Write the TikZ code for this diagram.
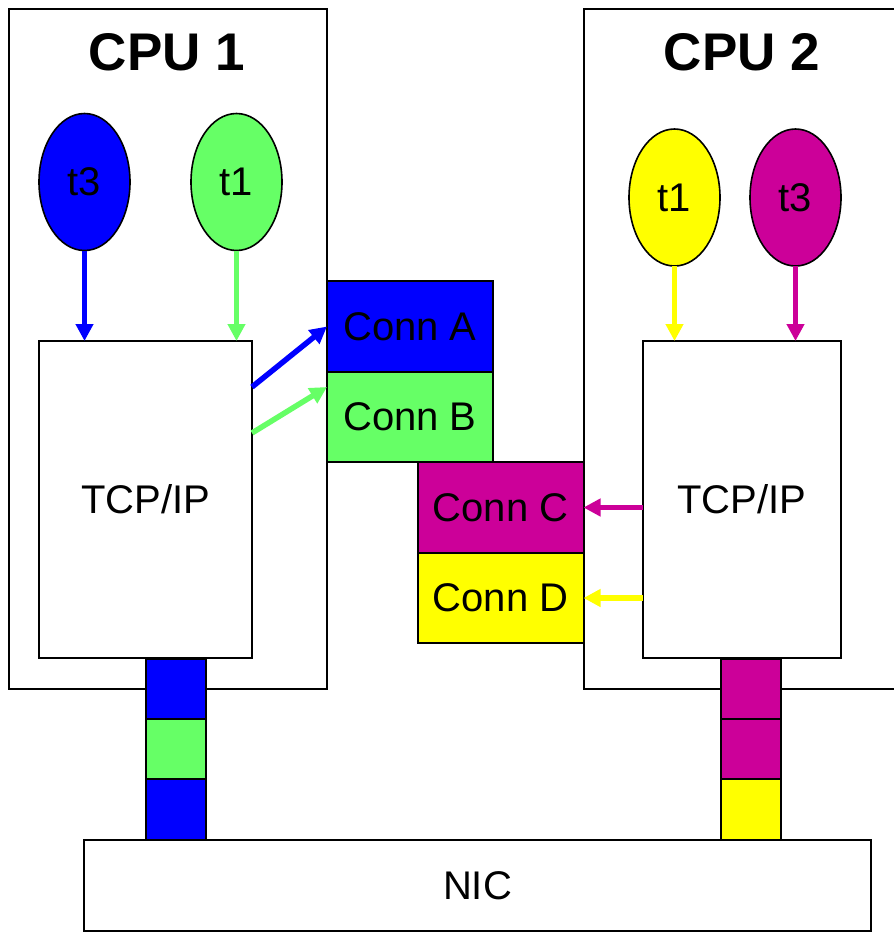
\documentclass[tikz,border=0pt]{standalone}
\usepackage{fontspec}
\setmainfont{Liberation Sans}
\usepackage{tikz}
\usetikzlibrary{arrows.meta, shapes.geometric, positioning, calc}
\definecolor{tblue}{HTML}{0000FF}
\definecolor{tgreen}{HTML}{66FF66}
\definecolor{tyellow}{HTML}{FFFF00}
\definecolor{tmagenta}{HTML}{CC0099}
\tikzset{
	box/.style={draw, line width=2pt, inner sep=0pt, outer sep=0pt, font=\fontsize{40}{48}\selectfont},
	thread/.style={draw, ellipse, line width=1.6pt, fill=#1, inner sep=0pt, outer sep=0pt, minimum width=91pt, minimum height=137pt, font=\fontsize{40}{48}\selectfont},
	conn/.style={box, fill=#1, minimum width=166pt, minimum height=90.5pt},
	cell/.style={box, fill=#1, minimum width=60pt, minimum height=60.3pt},
	flow/.style={draw=#1, line width=5.5pt, -{Triangle[length=17pt, width=17pt]}},
	cputitle/.style={font=\fontsize{53}{60}\selectfont\bfseries}
}

\begin{document}
\begin{tikzpicture}[x=1pt, y=-1pt]
		\useasboundingbox (0, 0) rectangle (894, 932);
		\node[box, minimum width=318pt, minimum height=680pt] (cpuA) at (168, 349) {};
		\draw[line width=2pt] (894, 9) -| (584, 689) -- (894, 689);
		\node[cputitle] (titleA) at (167, 52) {CPU 1};
		\node[cputitle] (titleB) at (742, 52) {CPU 2};
		\node[thread=tblue] (t3a) at (84.5, 182) {t3};
		\node[thread=tgreen] (t1a) at (236.5, 182) {t1};
		\node[thread=tyellow] (t1b) at (674.5, 197.5) {t1};
		\node[thread=tmagenta] (t3b) at (795.5, 197.5) {t3};
		\node[box, minimum width=213pt, minimum height=317pt] (tcpA) at (145.5, 499.5) {TCP/IP};
		\node[box, minimum width=198pt, minimum height=317pt] (tcpB) at (742, 499.5) {TCP/IP};
		\node[conn=tblue] (connA) at (410, 326.5) {Conn A};
		\node[conn=tgreen, below=0pt of connA] (connB) {Conn B};
		\node[conn=tmagenta] (connC) at (500.5, 507.5) {Conn C};
		\node[conn=tyellow, below=0pt of connC] (connD) {Conn D};
		\node[cell=tblue] (qA1) at (176, 689) {};
		\node[cell=tgreen, below=0pt of qA1] (qA2) {};
		\node[cell=tblue, below=0pt of qA2] (qA3) {};
		\node[cell=tmagenta] (qB1) at (750.5, 689) {};
		\node[cell=tmagenta, below=0pt of qB1] (qB2) {};
		\node[cell=tyellow, below=0pt of qB2] (qB3) {};
		\node[box, minimum width=787pt, minimum height=91pt] (nic) at (477.5, 885.5) {NIC};
		\coordinate (outA) at (252, 387);
		\coordinate (outB) at (252, 433);
		\coordinate (inB) at (327, 387);
		\draw[flow=tblue] (t3a) -- (t3a |- tcpA.north);
		\draw[flow=tgreen] (t1a) -- (t1a |- tcpA.north);
		\draw[flow=tyellow] (t1b) -- (t1b |- tcpB.north);
		\draw[flow=tmagenta] (t3b) -- (t3b |- tcpB.north);
		\draw[flow=tblue] (outA) -- (connA.west);
		\draw[flow=tgreen] (outB) -- (inB);
		\draw[flow=tmagenta] (connC.east -| tcpB.west) -- (connC.east);
		\draw[flow=tyellow] (connD.east -| tcpB.west) -- (connD.east);
	\end{tikzpicture}
\end{document}
